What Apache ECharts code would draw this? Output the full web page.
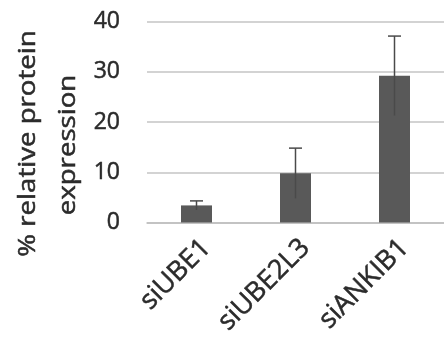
<!DOCTYPE html>
<html>
<head>
<meta charset="utf-8">
<script src="https://cdn.jsdelivr.net/npm/echarts@6/dist/echarts.min.js"></script>
<style>
html,body{margin:0;padding:0;background:#fff;}
#chart{width:444px;height:350px;}
</style>
</head>
<body>
<div id="chart"></div>
<script>
var categories = ['siUBE1', 'siUBE2L3', 'siANKIB1'];
var values = [3.4, 9.8, 29.2];
var errors = [0.9, 5.0, 7.9];
var yTicks = [0, 10, 20, 30, 40];
var titleLines = ['% relative protein', 'expression'];

var FONT = '"Open Sans", "Liberation Sans", sans-serif';
var TXT = '#2b2b2b';

var chart = echarts.init(document.getElementById('chart'), null, {renderer: 'canvas'});

var errData = values.map(function (v, i) { return [i, v, errors[i]]; });

chart.setOption({
  animation: false,
  backgroundColor: '#fff',
  grid: {left: 147, top: 21.5, width: 306, height: 201, containLabel: false},
  xAxis: {
    type: 'category',
    data: categories,
    axisLine: {show: true, lineStyle: {color: '#bfbfbf', width: 1.5}},
    axisTick: {show: false},
    axisLabel: {
      rotate: 45,
      interval: 0,
      margin: 31,
      padding: [0, -14, 0, 0],
      fontFamily: FONT,
      fontSize: 27,
      color: TXT,
      textBorderColor: TXT,
      textBorderWidth: 0.5
    }
  },
  yAxis: {
    type: 'value',
    min: yTicks[0],
    max: yTicks[yTicks.length - 1],
    interval: yTicks[1] - yTicks[0],
    axisLine: {show: false},
    axisTick: {show: false},
    splitLine: {lineStyle: {color: '#c4c4c4', width: 1.5}},
    axisLabel: {
      margin: 27,
      fontFamily: FONT,
      fontSize: 23,
      color: TXT,
      textBorderColor: TXT,
      textBorderWidth: 0.5
    }
  },
  series: [
    {
      type: 'bar',
      data: values,
      barWidth: 31,
      itemStyle: {color: '#595959'},
      z: 2
    },
    {
      type: 'custom',
      data: errData,
      z: 3,
      renderItem: function (params, api) {
        var i = api.value(0), v = api.value(1), e = api.value(2);
        var hi = api.coord([i, v + e]);
        var lo = api.coord([i, v - e]);
        var half = 6.5;
        return {
          type: 'group',
          children: [
            {type: 'line', shape: {x1: hi[0], y1: hi[1], x2: lo[0], y2: lo[1]},
             style: {stroke: '#4a4a4a', lineWidth: 1.5}},
            {type: 'line', shape: {x1: hi[0] - half, y1: hi[1], x2: hi[0] + half, y2: hi[1]},
             style: {stroke: '#4a4a4a', lineWidth: 1.5}}
          ]
        };
      }
    }
  ],
  graphic: [
    {type: 'text', x: 28, y: 143.5, rotation: Math.PI / 2, scaleX: 1.15,
     style: {text: titleLines[0], font: '24px ' + FONT, fill: TXT, stroke: TXT, lineWidth: 0.5, align: 'center', verticalAlign: 'middle', textAlign: 'center', textVerticalAlign: 'middle'}},
    {type: 'text', x: 68, y: 145, rotation: Math.PI / 2, scaleX: 1.15,
     style: {text: titleLines[1], font: '24px ' + FONT, fill: TXT, stroke: TXT, lineWidth: 0.5, align: 'center', verticalAlign: 'middle', textAlign: 'center', textVerticalAlign: 'middle'}}
  ]
});
</script>
</body>
</html>
